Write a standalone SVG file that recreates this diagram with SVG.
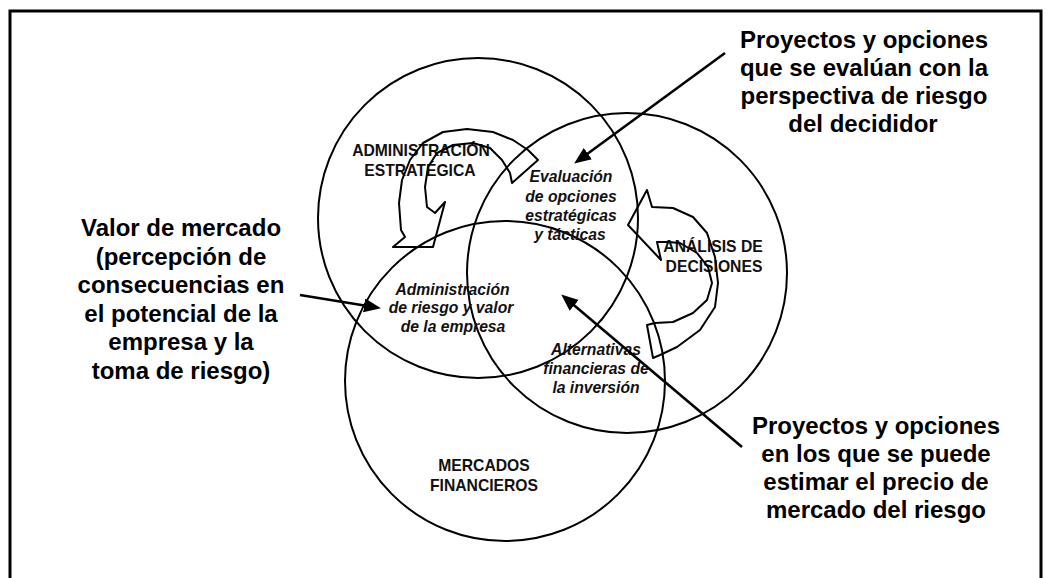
<svg xmlns="http://www.w3.org/2000/svg" width="1055" height="578" viewBox="0 0 1055 578">
<style>
.circ{fill:none;stroke:#000;stroke-width:2}
.band{fill:none;stroke:#000;stroke-width:2;stroke-linejoin:round}
.conn{fill:none;stroke:#000;stroke-width:2.6}
.big{font-family:"Liberation Sans",Arial,sans-serif;font-weight:bold;font-size:24px;fill:#000;text-anchor:middle}
.cap{font-family:"Liberation Sans",Arial,sans-serif;font-weight:bold;font-size:15.7px;fill:#111;text-anchor:middle}
.it{font-family:"Liberation Sans",Arial,sans-serif;font-weight:bold;font-style:italic;font-size:15.7px;fill:#111;text-anchor:middle}
</style>
<defs>
<marker id="ah" markerUnits="userSpaceOnUse" markerWidth="18" markerHeight="16" refX="8" refY="7" orient="auto">
<path d="M0,0 L17,7 L0,14 Z" fill="#000"/>
</marker>
</defs>
<rect x="10" y="11" width="1031" height="600" fill="none" stroke="#000" stroke-width="3"/>

<g id="admin-estrategica">
<circle class="circ" cx="478" cy="218" r="160"/>
<text class="cap" x="421" y="156">ADMINISTRACIÓN</text>
<text class="cap" x="420" y="175.5">ESTRATÉGICA</text>
</g>
<g id="analisis-decisiones">
<circle class="circ" cx="627" cy="273" r="160"/>
<text class="cap" x="713" y="252">ANÁLISIS DE</text>
<text class="cap" x="714" y="271.5">DECISIONES</text>
</g>
<g id="mercados-financieros">
<circle class="circ" cx="505" cy="381" r="160"/>
<text class="cap" x="484" y="471">MERCADOS</text>
<text class="cap" x="484" y="490.5">FINANCIEROS</text>
</g>

<g id="ciclo-admin">
<path class="band" d="M538,160 L528,150 L513,140 L493,132 L467,129 L443,132 L423,143 L410,160 L402,180 L399,203 L401,230 L405,237 L393,247 L433,247 L445,202 L435,213 L427,207 L425,187 L428,167 L437,153 L453,145 L473,143 L490,148 L502,160 L510,173 L512,183 Z"/>
</g>
<g id="ciclo-analisis">
<path class="band" d="M653,358 L660,355 L677,347 L700,330 L715,307 L718,283 L715,257 L707,233 L693,217 L673,208 L652,207 L647,190 L628,225 L661,260 L657,242 L668,242 L680,243 L697,253 L708,267 L712,283 L707,300 L693,313 L673,322 L655,323 L647,325 Z"/>
</g>

<g id="evaluacion">
<text class="it" x="571" y="182">Evaluación</text>
<text class="it" x="571" y="201.5">de opciones</text>
<text class="it" x="571" y="221">estratégicas</text>
<text class="it" x="570" y="240">y tácticas</text>
</g>
<g id="admin-riesgo">
<text class="it" x="452.5" y="294.5">Administración</text>
<text class="it" x="451" y="313">de riesgo y valor</text>
<text class="it" x="453" y="332">de la empresa</text>
</g>
<g id="alternativas">
<text class="it" x="596" y="354.5">Alternativas</text>
<text class="it" x="596" y="374">financieras de</text>
<text class="it" x="596" y="392.5">la inversión</text>
</g>

<g id="nota-decididor">
<text class="big" x="864" y="48">Proyectos y opciones</text>
<text class="big" x="864" y="76">que se evalúan con la</text>
<text class="big" x="864" y="104">perspectiva de riesgo</text>
<text class="big" x="863" y="132">del decididor</text>
</g>
<g id="nota-valor">
<text class="big" x="181" y="236">Valor de mercado</text>
<text class="big" x="181" y="264.6">(percepción de</text>
<text class="big" x="181" y="293.2">consecuencias en</text>
<text class="big" x="181" y="321.8">el potencial de la</text>
<text class="big" x="181" y="350.4">empresa y la</text>
<text class="big" x="181" y="379">toma de riesgo)</text>
</g>
<g id="nota-mercado">
<text class="big" x="876" y="434">Proyectos y opciones</text>
<text class="big" x="876" y="462">en los que se puede</text>
<text class="big" x="876" y="490">estimar el precio de</text>
<text class="big" x="876" y="518">mercado del riesgo</text>
</g>

<g id="connectors">
<line class="conn" x1="725" y1="53" x2="581.4" y2="158.3" marker-end="url(#ah)"/>
<line class="conn" x1="742" y1="447" x2="568.1" y2="300.2" marker-end="url(#ah)"/>
<line class="conn" x1="300" y1="295" x2="372.1" y2="306.7" marker-end="url(#ah)"/>
</g>
</svg>
